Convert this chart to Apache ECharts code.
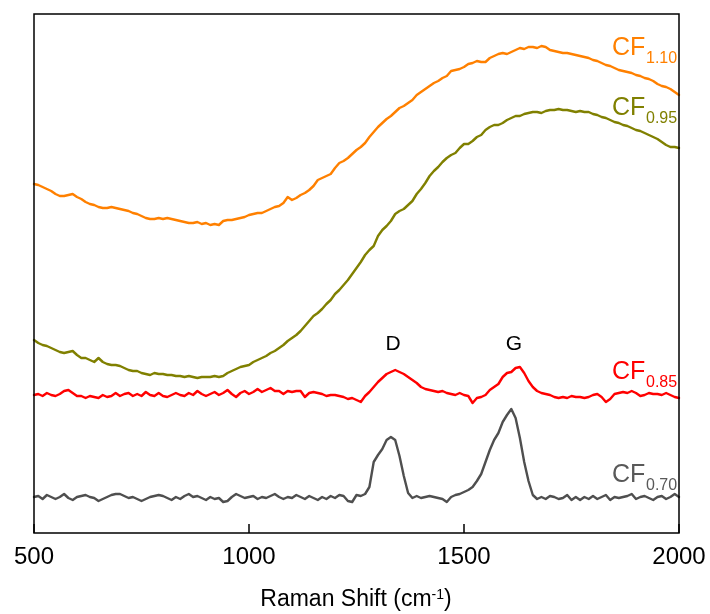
<!DOCTYPE html>
<html>
<head>
<meta charset="utf-8">
<script src="https://cdn.jsdelivr.net/npm/echarts@6/dist/echarts.min.js"></script>
<style>
html,body{margin:0;padding:0;background:#fff;}
#chart{width:710px;height:614px;}
</style>
</head>
<body>
<div id="chart"></div>
<script>
// Raman shift (cm-1)
var shift = [500,510,520,530,540,550,560,570,580,590,600,610,620,630,640,650,660,670,680,690,
700,710,720,730,740,750,760,770,780,790,800,810,820,830,840,850,860,870,880,890,
900,910,920,930,940,950,960,970,980,990,1000,1010,1020,1030,1040,1050,1060,1070,1080,1090,
1100,1110,1120,1130,1140,1150,1160,1170,1180,1190,1200,1210,1220,1230,1240,1250,1260,1270,1280,1290,
1300,1310,1320,1330,1340,1350,1360,1370,1380,1390,1400,1410,1420,1430,1440,1450,1460,1470,1480,1490,
1500,1510,1520,1530,1540,1550,1560,1570,1580,1590,1600,1610,1620,1630,1640,1650,1660,1670,1680,1690,
1700,1710,1720,1730,1740,1750,1760,1770,1780,1790,1800,1810,1820,1830,1840,1850,1860,1870,1880,1890,
1900,1910,1920,1930,1940,1950,1960,1970,1980,1990,2000];

// Intensities (arbitrary units, offset stacked)
var cf110 = [349,348,346,344,342,339,337,337,338,339,
336,334,331,329,328,326,325,325,326,325,
324,323,322,320,319,317,315,314,314,315,
314,315,314,313,312,311,310,310,311,309,
310,308,309,308,312,313,313,314,315,316,
318,319,320,320,322,324,326,327,330,336,
333,335,338,340,343,347,353,355,357,359,
365,370,372,375,379,383,386,390,396,401,
406,410,414,417,421,425,427,430,433,438,
441,444,447,450,452,455,457,462,463,464,
466,469,470,472,471,471,475,477,479,480,
479,481,483,485,484,486,486,485,487,486,
483,482,481,480,480,479,478,477,476,475,
473,472,470,468,467,465,463,462,461,460,
458,457,455,454,452,449,447,446,444,441,
438];

var cf095 = [193,190,188,187,185,183,181,180,181,182,
178,175,175,173,171,175,171,169,168,168,
167,165,163,162,162,160,159,158,160,159,
159,158,158,157,157,156,157,156,155,156,
156,156,157,156,157,160,162,164,166,167,
168,171,173,175,177,180,182,185,188,192,
195,198,202,207,212,217,220,224,229,233,
239,243,248,253,259,265,271,278,283,287,
297,303,307,312,319,322,324,328,332,339,
344,350,357,362,366,371,375,378,380,385,
389,389,392,396,398,403,406,408,408,410,
413,415,417,417,419,420,421,421,420,422,
423,423,424,423,423,422,421,422,421,421,
419,418,416,415,413,411,410,408,407,405,
403,402,400,398,396,394,391,388,386,386,
385];

var cf085 = [138,139,137,140,138,137,139,142,143,140,
137,137,135,137,136,135,138,136,137,140,
137,139,140,137,139,137,141,138,137,140,
137,136,138,140,138,137,140,138,142,139,
137,139,141,138,140,143,139,136,140,142,
139,141,144,141,143,145,142,142,139,142,
141,142,142,136,140,141,140,139,137,138,
138,137,136,134,135,133,131,137,141,146,
151,155,159,161,163,161,159,156,153,150,
146,144,143,142,141,142,140,139,138,140,
138,137,130,135,136,138,143,146,149,156,
160,161,165,166,160,152,146,142,140,139,
138,136,135,136,135,137,136,136,135,136,
138,139,136,131,134,139,140,141,140,142,
140,137,138,140,139,139,138,140,138,136,
135];

var cf070 = [36,37,34,38,36,34,36,39,35,33,
36,37,38,36,35,32,34,36,38,39,
39,37,35,36,34,32,34,36,37,38,
37,35,33,36,34,37,39,36,37,35,
33,36,34,35,31,32,36,39,37,35,
36,37,34,36,35,37,39,36,34,36,
35,38,36,34,37,35,33,36,34,37,
35,38,37,32,31,38,37,39,46,71,
78,84,93,96,93,77,57,40,35,37,
35,36,37,36,35,34,31,36,38,39,
41,43,46,52,59,71,83,93,100,111,
118,124,115,95,71,52,38,34,36,34,
37,36,34,35,38,33,36,33,36,34,
37,34,36,38,33,36,35,36,37,39,
34,36,37,35,33,36,37,34,36,39,
36];

var xTicks = [500, 1000, 1500, 2000];
var seriesNames = ['1.10', '0.95', '0.85', '0.70'];
var seriesColors = ['#FF8000', '#808000', '#FF0000', '#4F4F4F'];
var peakLabels = ['D', 'G'];

var FONT = "'Liberation Sans', Arial, sans-serif";

function pairs(ys) {
  return shift.map(function (x, i) { return [x, ys[i]]; });
}

var allSeries = [cf110, cf095, cf085, cf070];

var chart = echarts.init(document.getElementById('chart'), null, {renderer: 'canvas'});

var series = allSeries.map(function (ys, k) {
  return {
    name: 'CF' + seriesNames[k],
    type: 'line',
    data: pairs(ys),
    showSymbol: false,
    symbol: 'none',
    smooth: false,
    lineStyle: {color: seriesColors[k], width: 2.4, join: 'round', cap: 'round'},
    itemStyle: {color: seriesColors[k]},
    animation: false,
    z: 3
  };
});

// label positions (pixels) for series names
var labelPos = [[612, 36], [612, 96], [612, 360], [612, 463]];
var labelColors = ['#FF8000', '#808000', '#FF0000', '#595959'];

var graphics = [];
seriesNames.forEach(function (s, k) {
  graphics.push({
    type: 'text', x: labelPos[k][0], y: labelPos[k][1], z: 10,
    style: {text: 'CF', font: '25px ' + FONT, fill: labelColors[k], verticalAlign: 'top', align: 'left'}
  });
  graphics.push({
    type: 'text', x: labelPos[k][0] + 34, y: labelPos[k][1] + 15, z: 10,
    style: {text: s, font: '16px ' + FONT, fill: labelColors[k], verticalAlign: 'top', align: 'left'}
  });
});
var peakPos = [[393, 334], [514, 334]];
peakLabels.forEach(function (p, k) {
  graphics.push({
    type: 'text', x: peakPos[k][0], y: peakPos[k][1], z: 10,
    style: {text: p, font: '21px ' + FONT, fill: '#000', verticalAlign: 'top', align: 'center'}
  });
});
graphics.push({
  type: 'text', x: 356, y: 588, z: 10,
  style: {
    text: '{a|Raman Shift (cm}{s|-1}{a|)}',
    align: 'center', verticalAlign: 'top',
    rich: {
      a: {fontSize: 23, fontFamily: FONT, color: '#000', lineHeight: 24},
      s: {fontSize: 14, fontFamily: FONT, color: '#000', lineHeight: 12, verticalAlign: 'top'}
    }
  }
});

chart.setOption({
  animation: false,
  backgroundColor: '#fff',
  grid: {left: 34, right: 31, top: 14, bottom: 81, show: true, borderColor: '#000', borderWidth: 1.5, backgroundColor: 'transparent', z: 5},
  xAxis: {
    type: 'value', min: 500, max: 2000, interval: 500,
    axisLine: {show: false},
    axisTick: {show: true, inside: true, length: 9, lineStyle: {color: '#000', width: 1.5}},
    axisLabel: {
      margin: 12, color: '#000', fontSize: 24, fontFamily: FONT,
      customValues: xTicks,
      formatter: function (v) { return String(v); }
    },
    splitLine: {show: false}
  },
  yAxis: {
    type: 'value', min: 0, max: 519,
    show: false
  },
  series: series,
  graphic: graphics
});
</script>
</body>
</html>
